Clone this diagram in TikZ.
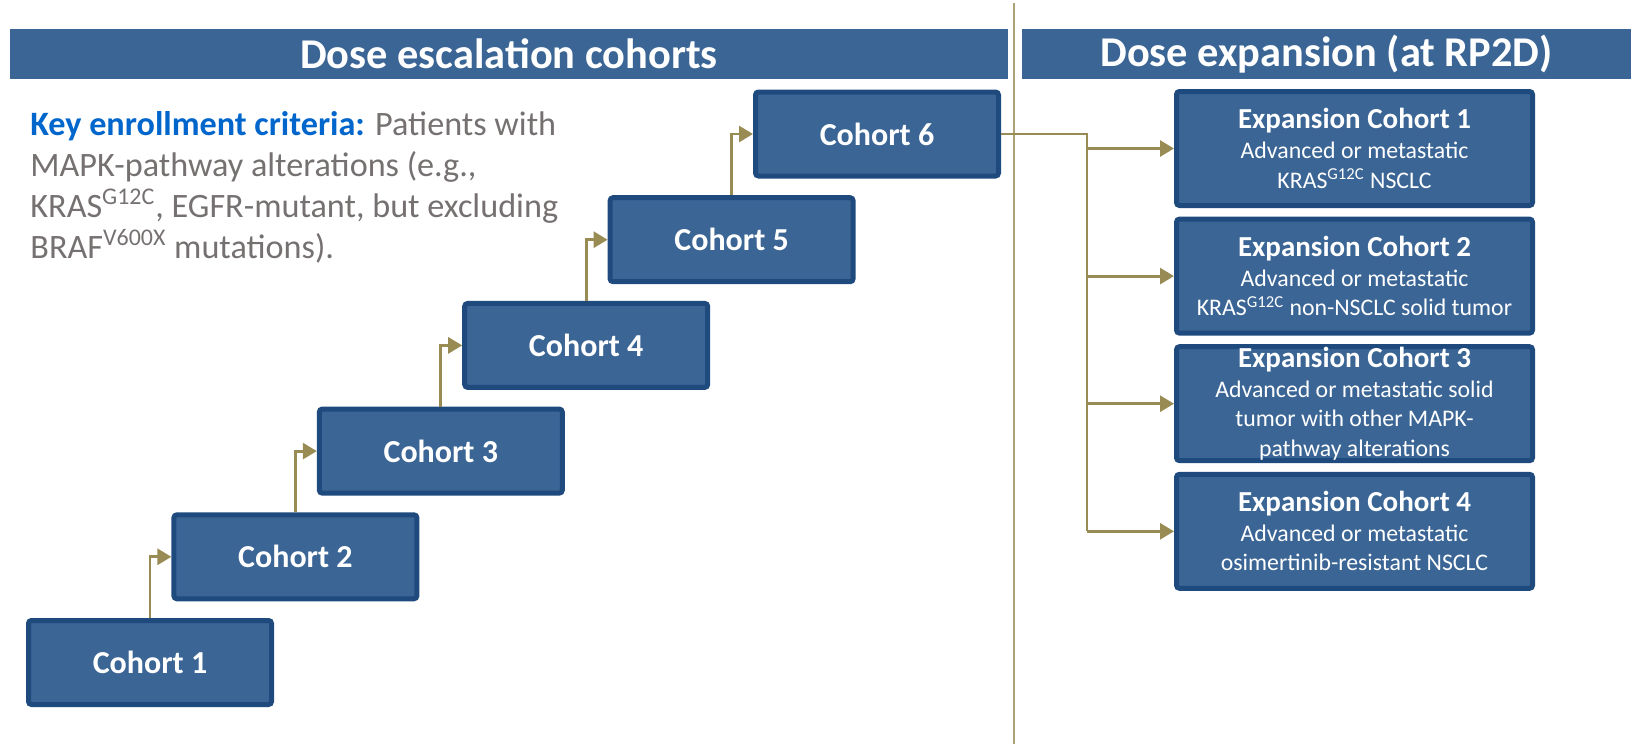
\documentclass[tikz,border=0pt]{standalone}
\usepackage{fontspec}
\setmainfont{Carlito}
\usepackage{tikz}
\usetikzlibrary{arrows.meta, positioning}

\definecolor{boxblue}{RGB}{58,101,149}
\definecolor{boxedge}{RGB}{31,74,126}
\definecolor{linkolive}{RGB}{152,139,84}
\definecolor{divider}{RGB}{172,162,118}
\definecolor{keyblue}{RGB}{0,102,204}
\definecolor{textgray}{RGB}{118,113,113}

\begin{document}
\begin{tikzpicture}[
    header/.style={rectangle, fill=boxblue, text=white, minimum height=25pt, inner sep=0pt, font=\bfseries\fontsize{21.2}{25}\selectfont},
    cohort/.style={rectangle, draw=boxedge, fill=boxblue, line width=2.5pt, rounded corners=1.5pt, minimum width=121.5pt, minimum height=42pt, text=white, font=\bfseries\fontsize{16}{19}\selectfont},
    expbox/.style={rectangle, draw=boxedge, fill=boxblue, line width=2.5pt, rounded corners=1.5pt, minimum width=178pt, minimum height=57pt, inner ysep=0pt, text=white, align=center, font=\fontsize{11.9}{14.8}\selectfont},
    link/.style={draw=linkolive, line width=1.4pt},
    arrow/.style={link, -{Triangle[length=7pt, width=8pt]}}
]
\useasboundingbox (0,0) rectangle (817pt,-372pt);

% divider between the two phases
\coordinate (divtop) at (507pt,-1.5pt);
\coordinate (divbot) at (507pt,-372pt);
\draw[divider, line width=1.4pt] (divtop) -- (divbot);

\node[header, minimum width=499pt] (esc) at (254.5pt,-27pt) {Dose escalation cohorts};
\node[header, minimum width=304.5pt] (expn) at (663.25pt,-27pt) {Dose expansion (at RP2D)};

\node[anchor=base west, align=left, inner sep=0pt, text=textgray, font=\fontsize{17.1}{20.5}\selectfont] (crit) at (15pt,-129pt)
    {\textcolor{keyblue}{\bfseries Key enrollment criteria:} Patients with\\
     MAPK-pathway alterations (e.g.,\\
     KRAS\textsuperscript{G12C}, EGFR-mutant, but excluding\\
     BRAF\textsuperscript{V600X} mutations).};

% escalation staircase
\node[cohort] (c1) at (75pt,-331.25pt) {Cohort 1};
\node[cohort, above right=8.35pt and 10.7pt of c1.north] (c2) {Cohort 2};
\node[cohort, above right=8.35pt and 10.7pt of c2.north] (c3) {Cohort 3};
\node[cohort, above right=8.35pt and 10.7pt of c3.north] (c4) {Cohort 4};
\node[cohort, above right=8.35pt and 10.7pt of c4.north] (c5) {Cohort 5};
\node[cohort, above right=8.35pt and 10.7pt of c5.north] (c6) {Cohort 6};

\draw[arrow] (c1.north) |- (c2.west);
\draw[arrow] (c2.north) |- (c3.west);
\draw[arrow] (c3.north) |- (c4.west);
\draw[arrow] (c4.north) |- (c5.west);
\draw[arrow] (c5.north) |- (c6.west);

% expansion cohorts
\node[expbox] (e1) at (677.25pt,-74.25pt)
    {{\bfseries\fontsize{14.5}{14.8}\selectfont Expansion Cohort 1}\\ Advanced or metastatic\\ KRAS\textsuperscript{G12C} NSCLC};
\node[expbox, below=4.3pt of e1] (e2)
    {{\bfseries\fontsize{14.5}{14.8}\selectfont Expansion Cohort 2}\\ Advanced or metastatic\\ KRAS\textsuperscript{G12C} non-NSCLC solid tumor};
\node[expbox, below=4.3pt of e2] (e3)
    {{\bfseries\fontsize{14.5}{14.8}\selectfont Expansion Cohort 3}\\ Advanced or metastatic solid\\ tumor with other MAPK-\\ pathway alterations};
\node[expbox, below=4.3pt of e3] (e4)
    {{\bfseries\fontsize{14.5}{14.8}\selectfont Expansion Cohort 4}\\ Advanced or metastatic\\ osimertinib-resistant NSCLC};

\coordinate (fork) at (543.5pt,-67pt);
\draw[link] (c6.east) -- (fork |- c6.east) -- (fork |- e4.west);
\draw[arrow] (fork |- e1.west) -- (e1.west);
\draw[arrow] (fork |- e2.west) -- (e2.west);
\draw[arrow] (fork |- e3.west) -- (e3.west);
\draw[arrow] (fork |- e4.west) -- (e4.west);

\end{tikzpicture}
\end{document}
